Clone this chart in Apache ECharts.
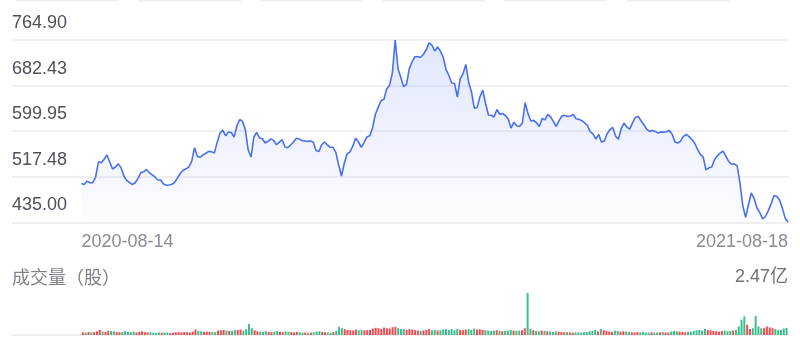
<!DOCTYPE html>
<html><head><meta charset="utf-8">
<script src="https://cdn.jsdelivr.net/npm/echarts@6/dist/echarts.min.js"></script>
<style>html,body{margin:0;padding:0;background:#fff}#c{width:800px;height:348px}</style>
</head><body><div id="c"></div>
<script>
// ---- data ----
const startDate = '2020-08-14';
const endDate = '2021-08-18';
const holidays = ['2020-10-01','2020-10-02','2020-10-26','2020-12-25','2021-01-01','2021-02-12','2021-02-15',
  '2021-04-02','2021-04-05','2021-04-06','2021-05-19','2021-06-14','2021-07-01'];
const prices = [
505.4,503.2,509.6,506.5,506.7,517.0,544.5,542.9,549.2,556.8,
544.1,531.5,535.1,540.7,533.6,518.8,510.8,506.7,503.4,506.5,
514.6,524.8,526.6,530.5,524.8,521.0,517.0,511.5,511.5,504.3,
502.1,502.5,503.8,507.9,515.5,523.8,529.3,531.8,535.1,545.4,
570.0,554.3,552.8,556.8,560.0,563.3,562.8,560.2,579.6,596.2,
601.8,591.5,598.4,597.5,589.4,610.0,621.0,617.6,602.0,565.8,
553.2,589.4,597.5,587.6,586.1,578.5,581.6,585.9,583.2,575.4,
580.1,584.5,571.3,570.0,574.9,580.3,587.0,585.9,582.7,582.7,
581.2,582.3,579.8,564.9,563.1,575.4,580.3,574.9,570.7,570.7,
561.5,538.7,518.8,542.3,559.1,562.6,572.7,587.2,580.7,570.7,
579.8,589.5,591.4,606.2,630.6,643.3,654.9,657.4,676.6,682.7,
705.2,764.9,713.1,697.0,680.4,684.4,713.1,725.6,734.7,734.7,
733.6,739.2,747.2,759.7,755.5,745.0,752.1,744.8,734.0,711.2,
700.8,687.1,686.2,661.8,694.7,703.9,720.6,688.5,670.8,641.5,
642.9,662.3,674.1,649.6,629.2,628.8,625.6,639.1,630.6,631.9,
628.3,621.9,605.6,616.1,609.6,608.5,614.7,651.4,631.7,618.3,
619.4,615.1,608.5,622.7,620.5,630.3,625.9,617.1,608.4,618.9,
627.4,628.5,626.3,627.5,630.1,622.3,621.6,619.0,615.2,610.4,
599.0,595.0,585.4,594.1,580.3,582.3,595.2,602.9,606.7,590.6,
585.2,604.9,614.3,607.1,603.7,615.4,624.8,626.5,618.9,611.6,
603.5,599.5,601.3,599.5,596.6,598.6,598.2,598.9,601.3,594.4,
580.5,578.5,581.9,590.4,593.9,590.1,584.7,578.0,567.1,557.9,
553.0,529.7,533.6,534.9,548.6,555.7,560.4,563.7,554.6,545.2,
540.1,540.9,537.2,506.3,464.9,444.0,466.3,488.2,478.4,461.2,
452.7,441.0,445.5,455.6,468.3,483.0,482.2,475.5,460.7,442.8,
435.0
];
// volume in millions of shares
const volumes = [
16,14,18,15,17,22,30,20,18,25,
24,22,18,16,17,24,18,16,20,15,
18,22,17,15,16,14,12,15,13,16,
14,12,13,16,18,15,17,16,14,20,
32,24,22,18,20,19,18,17,26,28,
30,26,24,25,28,30,32,26,34,64,
40,28,22,20,18,22,19,17,20,24,
18,16,22,19,17,15,18,16,14,15,
13,14,16,20,22,18,16,15,14,17,
24,48,40,34,30,28,26,32,28,30,
27,29,30,38,42,40,36,44,40,38,
46,48,40,36,34,30,36,32,28,26,
24,26,30,34,28,30,26,28,32,34,
30,34,28,36,30,28,32,34,30,38,
32,34,30,28,26,24,26,28,24,22,
24,26,30,26,24,25,28,40,247,36,
28,24,22,26,24,22,20,18,22,20,
18,16,17,15,14,16,15,14,16,18,
22,24,30,20,36,28,24,20,18,26,
24,20,22,20,18,16,15,17,16,18,
15,14,16,14,15,16,17,15,14,20,
24,22,20,18,16,18,20,24,28,30,
26,36,30,28,24,22,20,24,26,22,
24,26,30,50,90,110,60,35,40,112,
50,40,40,50,45,40,35,28,30,38,
42
];
const priceTicks = ['435.00','517.48','599.95','682.43','764.90'];
const volumeMax = 247;
const volumeMaxLabel = '2.47亿';
const volumeTitle = '成交量（股）';

// ---- build ----
const categories = [];
for (let d = new Date(startDate + 'T00:00:00Z'); d <= new Date(endDate + 'T00:00:00Z'); d.setUTCDate(d.getUTCDate() + 1)) {
  const wd = d.getUTCDay(); const s = d.toISOString().slice(0, 10);
  if (wd !== 0 && wd !== 6 && holidays.indexOf(s) < 0) categories.push(s);
}
const pMin = parseFloat(priceTicks[0]);
const pMax = parseFloat(priceTicks[priceTicks.length - 1]);
const pStep = (pMax - pMin) / (priceTicks.length - 1);
const RED = '#ef4b4f', GREEN = '#3dbd8d', BLUE = '#4a6ff0';
const volData = volumes.map((v, i) => ({
  value: v,
  itemStyle: { color: (i === 0 || prices[i] >= prices[i - 1]) ? RED : GREEN }
}));
const numFont = '"Liberation Sans", Arial, Helvetica, "Noto Sans CJK SC", sans-serif';
const cjkFont = '"Noto Sans CJK SC", "Liberation Sans", sans-serif';
const last = categories.length - 1;

const chart = echarts.init(document.getElementById('c'), null, { renderer: 'canvas' });
chart.setOption({
  animation: false,
  backgroundColor: '#fff',
  grid: [
    { left: 12, right: 11, top: 40, height: 182.3 },
    { left: 81.5, right: 12, top: 40, height: 182.3 },
    { left: 81.5, right: 12, top: 293, bottom: 13 },
    { left: 12, right: 11, top: 293, bottom: 13 }
  ],
  xAxis: [
    { gridIndex: 0, type: 'value', show: false, min: 0, max: 1 },
    { gridIndex: 1, type: 'category', data: categories, boundaryGap: false,
      axisLine: { show: false }, axisTick: { show: false }, splitLine: { show: false },
      axisLabel: { show: true, interval: (idx) => idx === 0 || idx === last, color: '#8a8a98',
        fontSize: 18, fontFamily: numFont, margin: 11, alignMinLabel: 'left', alignMaxLabel: 'right',
        showMinLabel: true, showMaxLabel: true } },
    { gridIndex: 2, type: 'category', data: categories, boundaryGap: true, show: false },
    { gridIndex: 3, type: 'value', min: 0, max: 1, axisLine: { show: true, lineStyle: { color: '#ececec', width: 1.5 } },
      axisTick: { show: false }, axisLabel: { show: false }, splitLine: { show: false } }
  ],
  yAxis: [
    { gridIndex: 0, type: 'value', min: pMin, max: pMax, interval: pStep,
      axisLine: { show: false }, axisTick: { show: false },
      splitLine: { show: true, lineStyle: { color: '#ebebee', width: 1.5 } },
      axisLabel: { inside: true, margin: 0, verticalAlign: 'bottom', lineHeight: 34, fontSize: 18,
        fontFamily: numFont, color: '#50505c',
        formatter: (v) => priceTicks[Math.round((v - pMin) / pStep)] } },
    { gridIndex: 1, type: 'value', min: pMin, max: pMax, show: false },
    { gridIndex: 2, type: 'value', min: 0, max: volumeMax, interval: volumeMax, position: 'right',
      axisLine: { show: false }, axisTick: { show: false }, splitLine: { show: false },
      axisLabel: { inside: true, margin: 0, verticalAlign: 'bottom', lineHeight: 32, fontSize: 18,
        fontFamily: numFont, color: '#70707c',
        formatter: (v) => v === volumeMax ? volumeMaxLabel : '' } },
    { gridIndex: 3, type: 'value', min: 0, max: 1, name: volumeTitle, nameLocation: 'end', nameGap: 16,
      nameTextStyle: { align: 'left', verticalAlign: 'middle', fontSize: 18, color: '#80808c', fontFamily: cjkFont },
      axisLine: { show: false }, axisTick: { show: false }, axisLabel: { show: false }, splitLine: { show: false } }
  ],
  series: [
    { type: 'line', xAxisIndex: 1, yAxisIndex: 1, data: prices, showSymbol: false, symbol: 'none',
      lineStyle: { color: BLUE, width: 1.6 },
      areaStyle: { color: new echarts.graphic.LinearGradient(0, 0, 0, 1, [
        { offset: 0, color: 'rgba(74,111,240,0.24)' },
        { offset: 1, color: 'rgba(74,111,240,0.02)' }]) } },
    { type: 'bar', xAxisIndex: 2, yAxisIndex: 2, data: volData, barCategoryGap: '30%' }
  ],
  graphic: [16, 138, 260, 382, 504, 627].map(x => ({
    type: 'rect', shape: { x: x, y: 0, width: 103, height: 1.5 }, style: { fill: '#efeff1' }, silent: true
  }))
});
</script></body></html>
